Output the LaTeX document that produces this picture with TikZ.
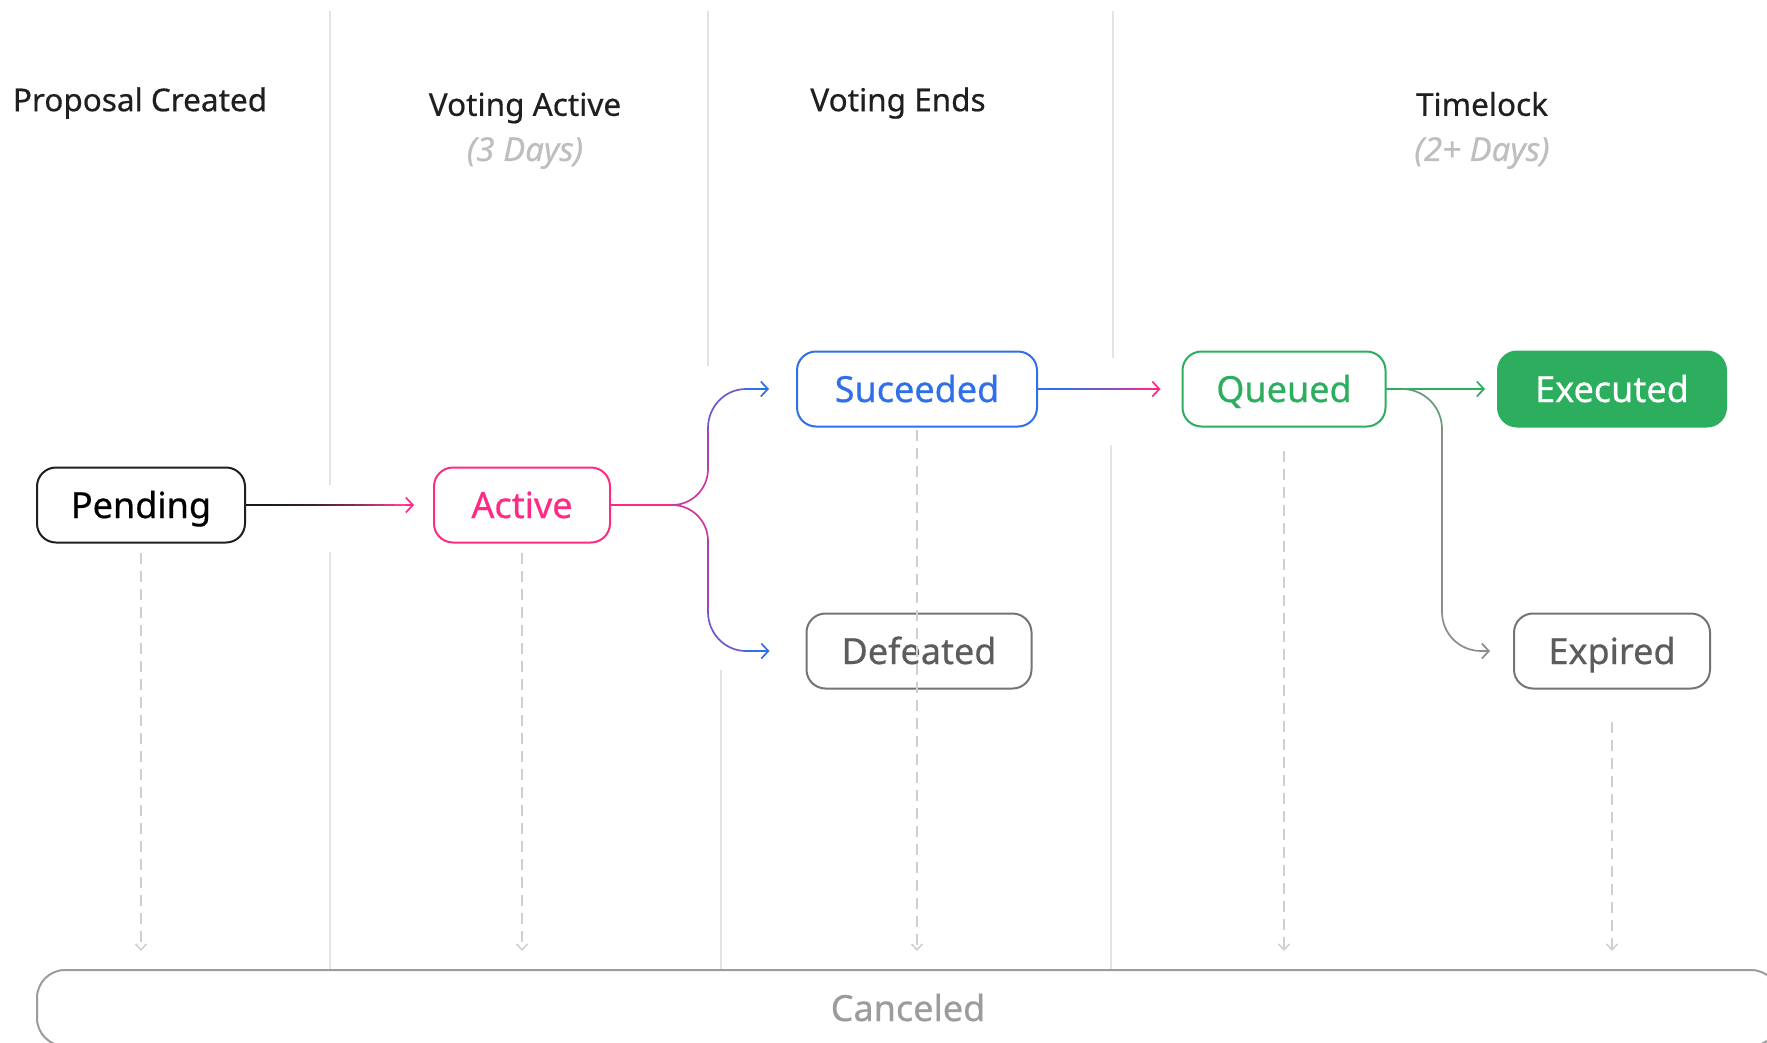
\documentclass[tikz,border=0pt]{standalone}
\usepackage{fontspec}
\setmainfont{Noto Sans}[FakeBold=0.5]
\usetikzlibrary{arrows.meta,calc}

\definecolor{activepink}{HTML}{FF2A84}
\definecolor{passblue}{HTML}{2F6FE8}
\definecolor{queuegreen}{HTML}{2DAE5E}
\definecolor{deadgray}{HTML}{5C5C5C}
\definecolor{expiregray}{HTML}{8C8C8C}
\definecolor{cancelgray}{HTML}{9C9C9C}
\definecolor{sepgray}{HTML}{E3E3E3}
\definecolor{dashgray}{HTML}{CFCFCF}
\definecolor{daysgray}{HTML}{BEBEBE}

\tikzset{
  statebox/.style={draw, line width=2pt, rounded corners=19pt,
    minimum height=75pt, inner sep=0pt, text height=26pt, text depth=0pt,
    font=\fontsize{36}{40}\selectfont},
  phaselabel/.style={font=\fontsize{31.5}{36}\selectfont, text=black!88},
  daylabel/.style={font=\fontsize{33}{38}\selectfont\itshape, text=daysgray},
  sepline/.style={sepgray, line width=1.5pt},
  flowpiece/.style={line width=1.7pt, line cap=round},
  flowarrow/.style={flowpiece,
    -{Straight Barb[length=7pt,width=15pt,line width=1.7pt]}},
  cancelarrow/.style={dashgray, line width=1.5pt, dash pattern=on 11pt off 7pt,
    -{Straight Barb[length=6pt,width=11pt,line width=1.5pt]}},
}

\begin{document}
\begin{tikzpicture}[x=1pt,y=1pt]
  \path[use as bounding box, fill=white] (0,0) rectangle (1767,-1042);

  % column separators
  \draw[sepline] (330,-11) -- (330,-485) (330,-552) -- (330,-970);
  \draw[sepline] (708,-11) -- (708,-366) (721,-670) -- (721,-970);
  \draw[sepline] (1113,-11) -- (1113,-358) (1111,-445) -- (1111,-970);

  % phase headings
  \node[phaselabel] (created) at (140,-103) {Proposal Created};
  \node[phaselabel] (voting) at (525,-108) {Voting Active};
  \node[daylabel] (votingdays) at (525,-153) {(3 Days)};
  \node[phaselabel] (ends) at (898,-103) {Voting Ends};
  \node[phaselabel] (timelock) at (1482,-104) {Timelock};
  \node[daylabel] (timelockdays) at (1482,-153) {(2+ Days)};

  % states
  \node[statebox, minimum width=208pt, draw=black!88, text=black] (pending) at (141,-505) {Pending};
  \node[statebox, minimum width=176pt, draw=activepink, text=activepink] (active) at (522,-505) {Active};
  \node[statebox, minimum width=240pt, draw=passblue, text=passblue] (suceeded) at (917,-389) {Suceeded};
  \node[statebox, minimum width=225pt, draw=deadgray!85, text=deadgray] (defeated) at (919,-651) {Defeated};
  \node[statebox, minimum width=203pt, draw=queuegreen, text=queuegreen] (queued) at (1284,-389) {Queued};
  \node[statebox, minimum width=228pt, draw=queuegreen, fill=queuegreen, text=white] (executed) at (1612,-389) {Executed};
  \node[statebox, minimum width=196pt, draw=deadgray!85, text=deadgray] (expired) at (1612,-651) {Expired};
  \node[statebox, minimum width=1742pt, minimum height=76pt, rounded corners=28pt,
    draw=cancelgray, text=cancelgray] (canceled) at (908,-1008) {Canceled};

  % pending -> active
  \coordinate (pa-end) at ($(active.west)+(-28,0)$);
  \draw[flowarrow, activepink, shorten >=19pt] (pending.east) -- (active.west);
  \foreach \i [evaluate=\i as \mix using \i*\i/2.25] in {0,...,15}
    \draw[flowpiece, activepink!\mix!black!90]
      ($(pending.east)!\i/16!(pa-end)$) -- ($(pending.east)!\i/16+0.0625!(pa-end)$);

  % active -> suceeded / defeated
  \coordinate (split) at (672,-505);
  \draw[flowpiece, activepink] (active.east) -- (split);
  \draw[flowpiece, activepink!75!passblue] (split) to[out=0,in=-90] (708,-469);
  \draw[flowpiece, activepink!55!passblue] (708,-469) -- (708,-428);
  \draw[flowpiece, activepink!30!passblue] (708,-428) to[out=90,in=180] (746,-389);
  \draw[flowarrow, passblue, shorten >=27pt] (746,-389) -- (suceeded.west);
  \draw[flowpiece, activepink!75!passblue] (split) to[out=0,in=90] (708,-541);
  \draw[flowpiece, activepink!55!passblue] (708,-541) -- (708,-612);
  \draw[flowpiece, activepink!30!passblue] (708,-612) to[out=-90,in=180] (746,-651);
  \draw[flowarrow, passblue, shorten >=36pt] (746,-651) -- (defeated.west);

  % suceeded -> queued
  \coordinate (sq-end) at ($(queued.west)+(-30,0)$);
  \draw[flowarrow, activepink, shorten >=21pt] (suceeded.east) -- (queued.west);
  \foreach \i [evaluate=\i as \mix using \i*\i/2.25] in {0,...,15}
    \draw[flowpiece, activepink!\mix!passblue]
      ($(suceeded.east)!\i/16!(sq-end)$) -- ($(suceeded.east)!\i/16+0.0625!(sq-end)$);

  % queued -> executed / expired
  \draw[flowarrow, queuegreen, shorten >=12pt] (queued.east) -- (executed.west);
  \coordinate (qsplit) at (1402,-389);
  \draw[flowpiece, queuegreen!40!expiregray] (qsplit) to[out=0,in=90] (1442,-429);
  \draw[flowarrow, expiregray, shorten >=23pt] (1442,-429) -- (1442,-612)
    to[out=-90,in=180] (1481,-651) -- (expired.west);

  % cancel paths
  \foreach \s/\gap in {pending/9, active/9, suceeded/2, queued/23, expired/32}
    \draw[cancelarrow, shorten <=\gap pt, shorten >=18pt] (\s.south) -- (\s.south |- canceled.north);
\end{tikzpicture}
\end{document}
